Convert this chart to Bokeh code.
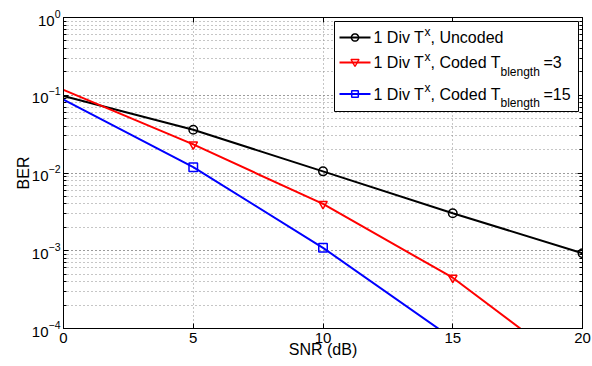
import math
from bokeh.plotting import figure
from bokeh.models import (Range1d, FixedTicker, LogTicker, LinearAxis, LogAxis, Label,
                          BoxAnnotation, PolyAnnotation, CustomJSTickFormatter)
from bokeh.embed import file_html
from bokeh.resources import INLINE

# ---------------- data ----------------
snr_db = [0, 5, 10, 15, 20]
ber_uncoded = [0.098, 0.036, 0.0105, 0.00304, 0.00093]
ber_coded_3 = [0.117, 0.0233, 0.0040, 0.00045, 0.000025]
ber_coded_15 = [0.088, 0.0119, 0.00109, 0.000074, 0.000004]
x_ticks = [0, 5, 10, 15, 20]
x_label = "SNR (dB)"
y_label = "BER"
legend_main = ["1 Div T", "1 Div T", "1 Div T"]
legend_sup = ["x", "x", "x"]
legend_rest = [", Uncoded", ", Coded T", ", Coded T"]
legend_sub = ["", "blength", "blength"]
legend_tail = ["", "=3", "=15"]

FONT = "Liberation Sans"
W, H = 592, 366
FL, FB = 63, 328  # frame left / bottom in canvas pixels
colors = ["#000000", "#ff0000", "#0000ff"]
markers = ["circle", "inverted_triangle", "square"]

p = figure(width=W, height=H, x_range=Range1d(0, 20), y_range=Range1d(1e-4, 1),
           y_axis_type="log", output_backend="svg", toolbar_location=None,
           min_border_left=63, min_border_right=10, min_border_top=17, min_border_bottom=38)
p.background_fill_color = "white"
p.border_fill_color = "white"
p.outline_line_color = "black"
p.outline_line_width = 1

xt = FixedTicker(ticks=x_ticks)
for ax in p.xaxis:
    ax.ticker = xt
    ax.minor_tick_line_color = None
    ax.major_tick_in = 5
    ax.major_tick_out = 0
    ax.major_label_standoff = 4
    ax.major_label_text_font = FONT
    ax.major_label_text_font_size = "15px"
    ax.major_label_text_color = "black"
    ax.axis_line_color = "black"
    ax.major_tick_line_color = "black"
    ax.axis_label = x_label
    ax.axis_label_standoff = -5
    ax.axis_label_text_font = FONT
    ax.axis_label_text_font_size = "16px"
    ax.axis_label_text_font_style = "normal"
    ax.axis_label_text_color = "black"
for ax in p.yaxis:
    ax.ticker = LogTicker(num_minor_ticks=10)
    ax.major_tick_in = 5
    ax.major_tick_out = 0
    ax.minor_tick_in = 3
    ax.minor_tick_out = 0
    ax.major_label_standoff = 3
    ax.major_label_text_font = FONT
    ax.major_label_text_font_size = "15px"
    ax.major_label_text_color = "black"
    ax.axis_line_color = "black"
    ax.major_tick_line_color = "black"
    ax.minor_tick_line_color = "black"
    ax.axis_label = y_label
    ax.axis_label_standoff = -3
    ax.axis_label_text_font = FONT
    ax.axis_label_text_font_size = "16px"
    ax.axis_label_text_font_style = "normal"
    ax.axis_label_text_color = "black"

top_ax = LinearAxis(ticker=FixedTicker(ticks=x_ticks), major_tick_in=5, major_tick_out=0,
                    formatter=CustomJSTickFormatter(code="return ''"), major_label_standoff=0,
                    minor_tick_line_color=None, axis_line_color="black")
p.add_layout(top_ax, "above")
right_ax = LogAxis(ticker=LogTicker(num_minor_ticks=10), major_tick_in=5, major_tick_out=0,
                   minor_tick_in=3, minor_tick_out=0,
                   formatter=CustomJSTickFormatter(code="return ''"), major_label_standoff=0,
                   axis_line_color="black")
p.add_layout(right_ax, "right")

grid_col = "#8c8c8c"
p.xgrid.ticker = xt
p.xgrid.grid_line_color = grid_col
p.xgrid.grid_line_dash = "1 3"
p.ygrid.grid_line_color = grid_col
p.ygrid.grid_line_dash = "1 3"
p.ygrid.minor_grid_line_color = grid_col
p.ygrid.minor_grid_line_dash = "1 3"

series = [ber_uncoded, ber_coded_3, ber_coded_15]
for ber, c, m in zip(series, colors, markers):
    p.line(snr_db, ber, line_color=c, line_width=2)
    p.scatter(snr_db[1:], ber[1:], marker=m, size=8.5, line_color=c, fill_color=None,
              line_width=1.5)


# screen (frame-relative) helpers from canvas pixel positions
def sx(px):
    return px - FL


def sy(py):
    return FB - py


def lab(x, y, t, size):
    p.add_layout(Label(x=sx(x), y=sy(y), x_units="screen", y_units="screen", text=t,
                       text_font=FONT, text_font_size=size, text_align="left",
                       text_baseline="middle", text_color="black"))


# legend
p.add_layout(BoxAnnotation(left=sx(334), right=sx(578), top=sy(21), bottom=sy(111),
                           left_units="screen", right_units="screen",
                           top_units="screen", bottom_units="screen",
                           fill_color="white", fill_alpha=1.0,
                           line_color="black", line_width=1, line_alpha=1.0))

rows_y = [37, 62, 93.5]
mx = 354.5
for i, ry in enumerate(rows_y):
    c = colors[i]
    p.add_layout(PolyAnnotation(xs=[sx(339), sx(370)], ys=[sy(ry), sy(ry)],
                                xs_units="screen", ys_units="screen", line_color=c,
                                line_alpha=1.0, line_width=2, fill_color=None, fill_alpha=0))
    if markers[i] == "circle":
        n = 24
        xs = [sx(mx) + 3.6 * math.cos(2 * math.pi * k / n) for k in range(n)]
        ys = [sy(ry) + 3.6 * math.sin(2 * math.pi * k / n) for k in range(n)]
    elif markers[i] == "inverted_triangle":
        xs = [sx(mx - 4), sx(mx + 4), sx(mx)]
        ys = [sy(ry - 3), sy(ry - 3), sy(ry + 4)]
    else:
        xs = [sx(mx - 3.3), sx(mx + 3.3), sx(mx + 3.3), sx(mx - 3.3)]
        ys = [sy(ry - 3.3), sy(ry - 3.3), sy(ry + 3.3), sy(ry + 3.3)]
    p.add_layout(PolyAnnotation(xs=xs, ys=ys, xs_units="screen", ys_units="screen",
                                line_color=c, line_alpha=1.0, line_width=1.5,
                                fill_color=None, fill_alpha=0))

    lab(373, ry, legend_main[i], "16px")
    lab(424, ry - 6, legend_sup[i], "12px")
    lab(430, ry, legend_rest[i], "16px")
    if legend_sub[i]:
        lab(500, ry + 9, legend_sub[i], "12px")
    if legend_tail[i]:
        lab(543, ry, legend_tail[i], "16px")

open("out.html", "w").write(file_html(p, INLINE))
